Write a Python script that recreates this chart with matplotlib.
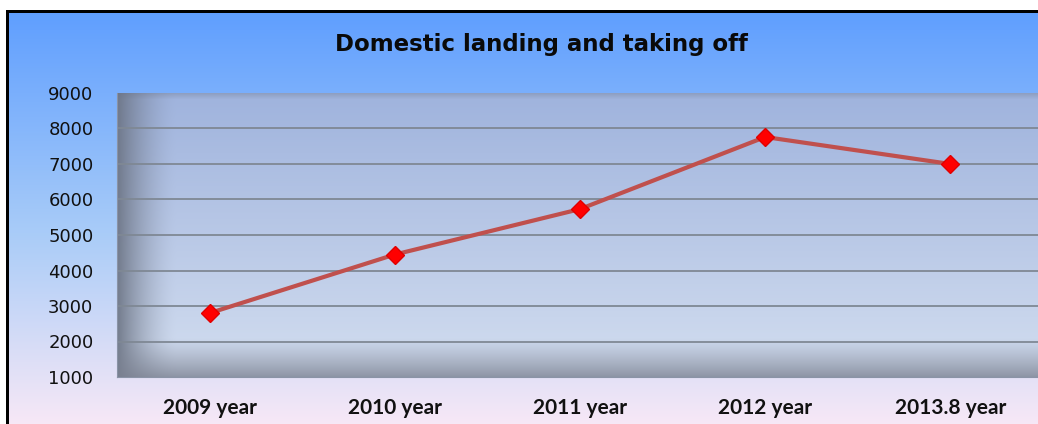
import numpy as np
import matplotlib
matplotlib.use("Agg")
import matplotlib.pyplot as plt
from matplotlib.colors import to_rgb

categories = ["2009 year", "2010 year", "2011 year", "2012 year", "2013.8 year"]
values = [2800, 4450, 5730, 7760, 7000]
yticks = [1000, 2000, 3000, 4000, 5000, 6000, 7000, 8000, 9000]
title = "Domestic landing and taking off"

W, H = 1038, 424
fig = plt.figure(figsize=(W / 100, H / 100), dpi=100)

# figure background gradient
bg = fig.add_axes([0, 0, 1, 1], zorder=0)
bg.set_axis_off()
top = np.array(to_rgb("#5b9cff"))
mid = np.array(to_rgb("#a9ccf8"))
bot = np.array(to_rgb("#f7e8f6"))
t = np.linspace(0, 1, H)[:, None]
grad = np.where(t < 0.55, top + (mid - top) * (t / 0.55), mid + (bot - mid) * ((t - 0.55) / 0.45))
img = np.repeat(grad[:, None, :], W, axis=1).reshape(H, W, 3)
img[:10, :, :] = 1.0
img[:, :6, :] = 1.0
img[10:13, 6:, :] = 0.0
img[10:, 6:9, :] = 0.0
bg.imshow(img, aspect="auto", extent=[0, 1, 0, 1], interpolation="bilinear")
bg.set_xlim(0, 1)
bg.set_ylim(0, 1)

# plot area
left_px, right_px, top_px, bot_px = 117, 1043, 93, 377
ax = fig.add_axes([left_px / W, (H - bot_px) / H, (right_px - left_px) / W, (bot_px - top_px) / H], zorder=1)
ax.set_xlim(-0.5, len(categories) - 0.5)
ax.set_ylim(1000, 9000)

# wall gradient
pw, ph = right_px - left_px, bot_px - top_px
ty = np.linspace(0, 1, ph)[:, None, None]
wtop = np.array(to_rgb("#9fb3dd"))
wbot = np.array(to_rgb("#d3def0"))
wall = wtop + (wbot - wtop) * ty
wall = np.repeat(wall, pw, axis=1)
shade = np.array(to_rgb("#6a7282"))
xs = np.arange(pw)[None, :, None]
lw_ = np.clip(1 - xs / 60.0, 0, 1) ** 1.6 * 0.9
wall = wall * (1 - lw_) + shade * lw_
ys = np.arange(ph)[:, None, None]
bw_ = np.clip((ys - (ph - 40)) / 40.0, 0, 1) ** 1.2 * 0.8
wall = wall * (1 - bw_) + np.array(to_rgb("#7a8090")) * bw_
tw_ = np.clip(1 - ys / 6.0, 0, 1) * 0.3
wall = wall * (1 - tw_) + shade * tw_
ax.imshow(wall, aspect="auto", extent=[-0.5, len(categories) - 0.5, 1000, 9000],
          interpolation="bilinear", zorder=0)

for yv in yticks[1:-1]:
    ax.axhline(yv, color="#7f8894", lw=1.3, zorder=1)

x = np.arange(len(categories))
ax.plot(x, values, color="#c0504d", lw=3, zorder=3)
ax.plot(x, values, linestyle="none", marker="D", markersize=9, color="#ff0000",
        markeredgecolor="#e00000", zorder=4)

for s in ax.spines.values():
    s.set_visible(False)
ax.spines["left"].set_visible(True)
ax.spines["left"].set_color("#8a93a6")
ax.spines["bottom"].set_visible(True)
ax.spines["bottom"].set_color("#8a93a6")

ax.set_xticks(x)
ax.set_xticklabels(categories, fontsize=15, fontweight="bold", family=["Lato", "DejaVu Sans"])
ax.set_yticks(yticks)
ax.set_yticklabels([str(v) for v in yticks], fontsize=13, family=["DejaVu Sans"])
ax.tick_params(axis="both", length=0, colors="#111111")
ax.tick_params(axis="x", pad=15)
ax.tick_params(axis="y", pad=17)

fig.text(0.5217, (H - 45) / H, title, ha="center", va="center", fontsize=16.5,
         fontweight="bold", family=["DejaVu Sans"], color="#0a0a0a")

fig.savefig("out.png", dpi=100)
